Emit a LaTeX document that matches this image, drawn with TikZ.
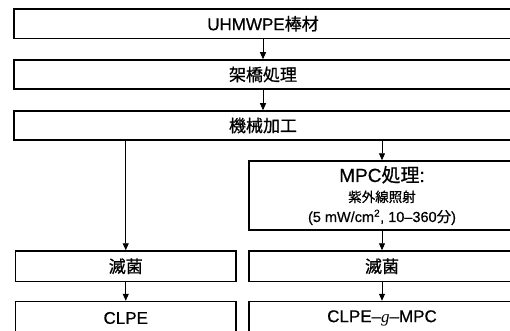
\documentclass[tikz,border=0pt]{standalone}
\usepackage{fontspec}
\setmainfont{Liberation Sans}[FakeBold=0.5]
\newfontfamily\jp{Noto Sans CJK JP}[FakeBold=0.7]
\newfontfamily\serifit{Liberation Serif}[ItalicFont={Liberation Serif Italic}]
\usetikzlibrary{arrows.meta}
\tikzset{
  box/.style={draw, line width=1.5pt, inner sep=0pt, font=\fontsize{17}{19}\selectfont},
  flow/.style={line width=0.9pt, -{Stealth[length=7pt,width=6pt,inset=0pt]}}
}
\begin{document}
\begin{tikzpicture}[x=1pt,y=-1pt]
\useasboundingbox (0,0) rectangle (510,331);
\clip (0,0) rectangle (510,331);
\fill[white] (0,0) rectangle (510,331);
\node[box, minimum width=498pt, minimum height=29.5pt] (b1) at (263,23.75) {UHMWPE{\jp 棒材}};
\node[box, minimum width=498pt, minimum height=29pt] (b2) at (263,74.5) {\jp 架橋処理};
\node[box, minimum width=498pt, minimum height=29pt] (b3) at (263,125.5) {\jp 機械加工};
\node[box, minimum width=266pt, minimum height=69pt, align=center] (mpc) at (382,195.5)
  {\fontsize{19}{20}\selectfont MPC{\jp 処理}:\\[1pt]
   {\fontsize{13.5}{17}\selectfont\jp 紫外線照射}\\[1pt]
   {\fontsize{14.5}{18}\selectfont (5 mW/cm\textsuperscript{2}, 10–360{\jp 分})}};
\node[box, minimum width=220.5pt, minimum height=30.5pt] (stL) at (125.75,266.25) {\jp 滅菌};
\node[box, minimum width=266pt, minimum height=30.5pt] (stR) at (382,266.25) {\jp 滅菌};
\node[box, minimum width=220.5pt, minimum height=33pt] (clpe) at (125.75,318) {CLPE};
\node[box, minimum width=266pt, minimum height=33pt] (clpeg) at (382,318) {CLPE–{\serifit\itshape g}–MPC};
\draw[flow] (b1.south) -- (b2.north);
\draw[flow] (b2.south) -- (b3.north);
\draw[flow] (b3.south -| stL.north) -- (stL.north);
\draw[flow] (b3.south -| mpc.north) -- (mpc.north);
\draw[flow] (mpc.south) -- (stR.north);
\draw[flow] (stL.south) -- (clpe.north);
\draw[flow] (stR.south) -- (clpeg.north);
\end{tikzpicture}
\end{document}
